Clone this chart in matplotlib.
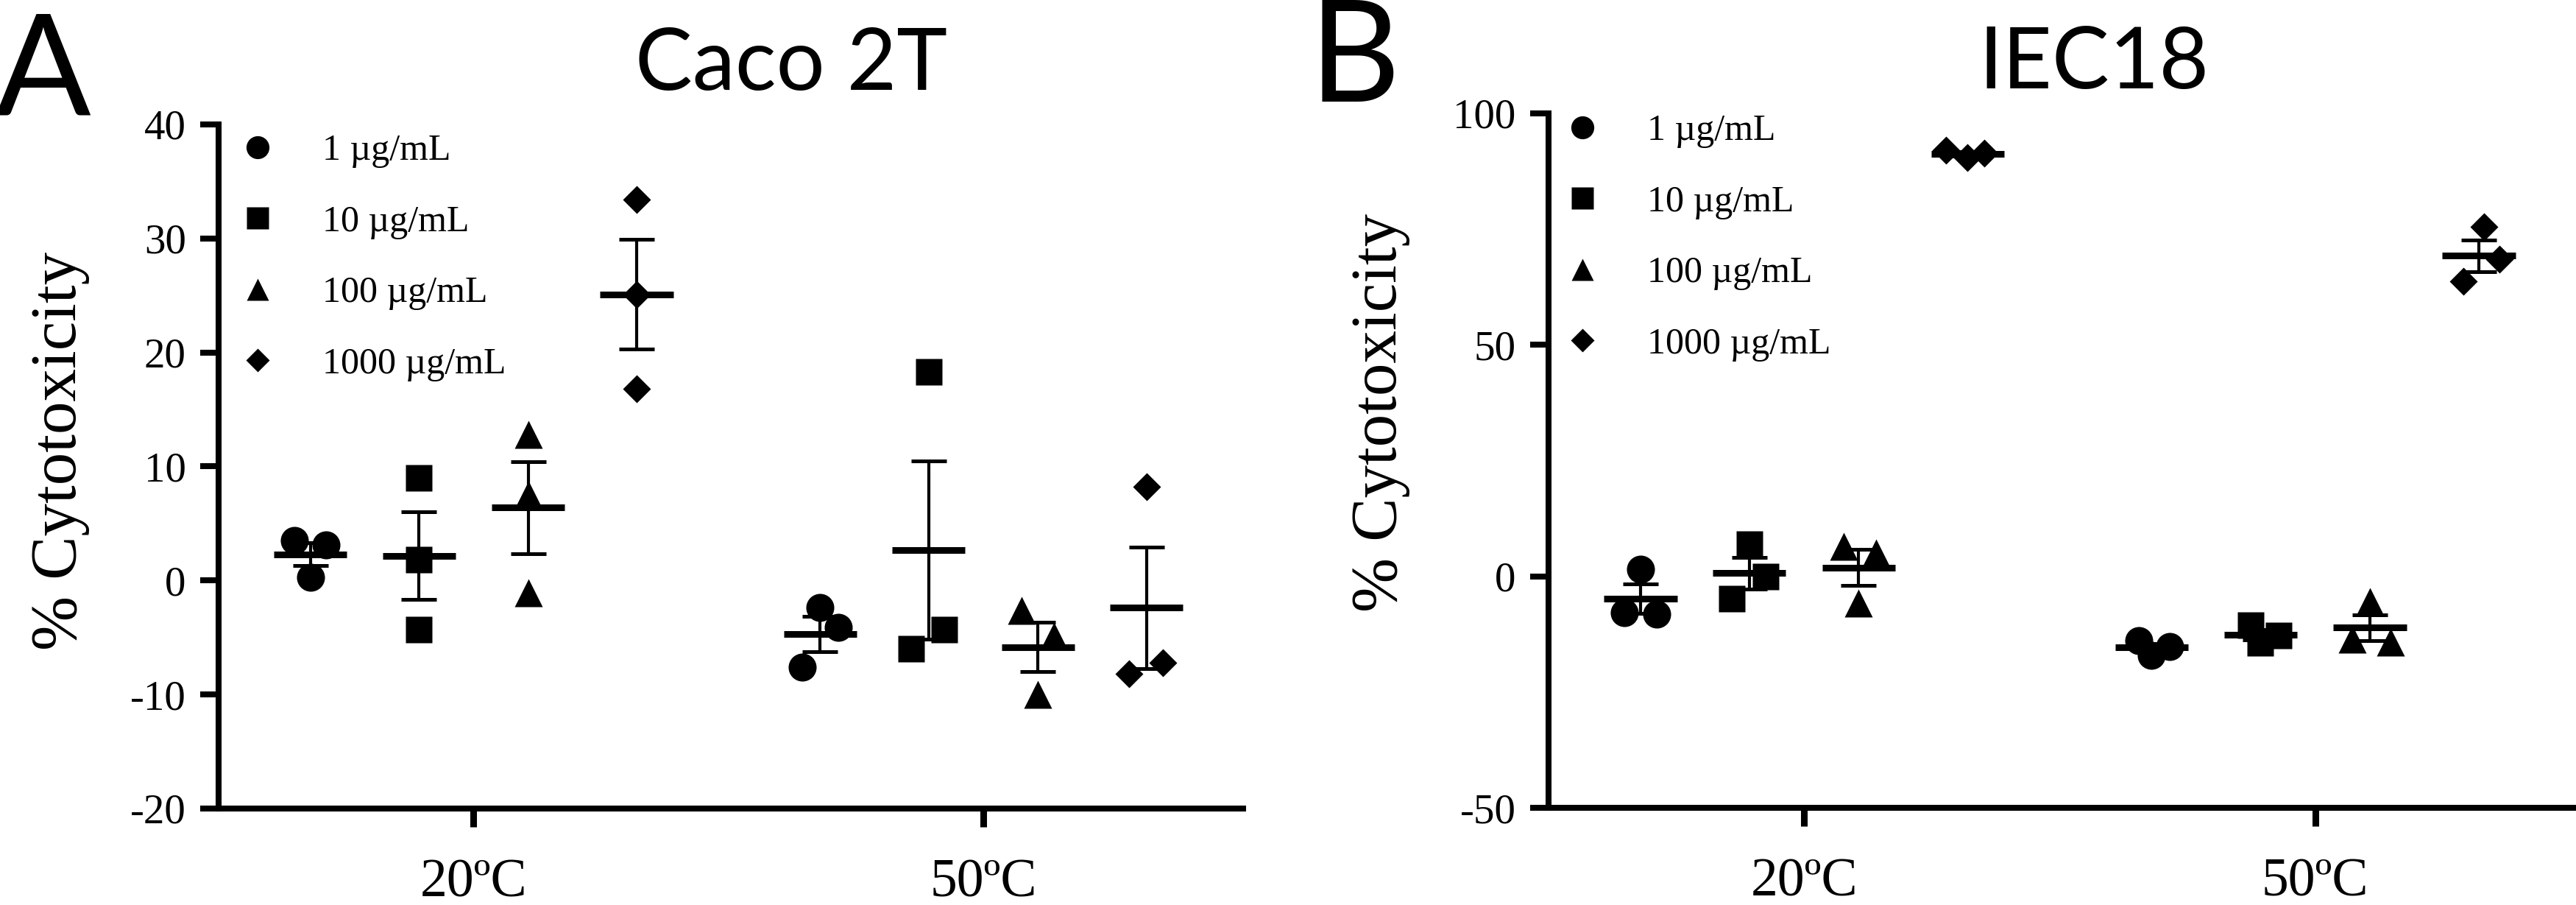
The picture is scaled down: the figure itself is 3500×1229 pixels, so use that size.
import matplotlib
matplotlib.use("Agg")
import matplotlib.pyplot as plt
import numpy as np

plt.rcParams['axes.unicode_minus'] = False

# Categories
conditions = ["20ºC", "50ºC"]
doses = ["1 \u00b5g/mL", "10 \u00b5g/mL", "100 \u00b5g/mL", "1000 \u00b5g/mL"]

# % cytotoxicity, three replicates per dose (order: 1, 10, 100, 1000 ug/mL)
caco_20 = [[3.5, 3.1, 0.3], [9.0, 1.8, -4.3], [12.8, 7.5, -1.1], [33.4, 25.1, 16.8]]
caco_50 = [[-2.4, -4.1, -7.6], [18.3, -4.3, -6.0], [-2.6, -4.9, -10.0], [8.2, -8.2, -7.2]]
iec_20 = [[1.5, -7.9, -8.1], [7.0, 0.0, -4.8], [6.4, 5.1, -5.8], [92.0, 90.4, 91.4]]
iec_50 = [[-13.9, -15.2, -17.0], [-10.5, -12.8, -14.4], [-5.5, -13.6, -14.2], [75.5, 68.5, 63.8]]

# horizontal scatter of the replicates (layout only)
jit_caco_20 = [[-0.031, 0.031, 0.0], [0, 0, 0], [0, 0, 0], [0, 0, 0]]
jit_caco_50 = [[0.0, 0.035, -0.035], [0.0, 0.03, -0.035], [-0.032, 0.032, 0.0], [0.0, -0.034, 0.032]]
jit_iec_20 = [[0.0, -0.032, 0.032], [0.0, 0.032, -0.035], [-0.03, 0.034, 0.0], [-0.043, 0.0, 0.033]]
jit_iec_50 = [[-0.025, 0.035, 0.0], [-0.02, 0.035, 0.0], [0.0, -0.035, 0.04], [0.01, 0.04, -0.03]]

markers = ["o", "s", "^", "D"]
msizes = {"o": 27.4, "s": 26.6, "^": 27.0, "D": 19.3}
offsets = [-0.32, -0.107, 0.107, 0.32]
SERIF = "Liberation Serif"
SANS = "Lato"


def draw_panel(ax, data, jitter, ylim, yticks):
    for ci, (vals, jit) in enumerate(zip(data, jitter)):
        for di in range(len(doses)):
            y = np.array(vals[di])
            xc = ci + offsets[di]
            x = xc + np.array(jit[di])
            ax.plot(x, y, ls="none", marker=markers[di], ms=msizes[markers[di]],
                    color="black", mec="none", clip_on=False,
                    label=doses[di] if ci == 0 else None, zorder=3)
            m = y.mean()
            sem = y.std(ddof=1) / np.sqrt(len(y))
            ax.errorbar(xc, m, yerr=sem, fmt="none", ecolor="black",
                        elinewidth=3.0, capsize=17.5, capthick=3.6, zorder=4)
            ax.hlines(m, xc - 0.0715, xc + 0.0715, color="black", lw=6.5, zorder=5)

    ax.set_xlim(-0.5, 1.51)
    ax.set_ylim(*ylim)
    ax.set_yticks(yticks)
    ax.set_yticklabels([str(t) for t in yticks], family=SERIF, fontsize=41)
    ax.set_xticks(range(len(conditions)))
    ax.set_xticklabels(conditions, family=SERIF, fontsize=53)
    for s in ["top", "right"]:
        ax.spines[s].set_visible(False)
    for s in ["left", "bottom"]:
        ax.spines[s].set_linewidth(5.8)
    ax.tick_params(axis="y", direction="out", length=18, width=5.8, pad=14)
    ax.tick_params(axis="x", direction="out", length=18, width=6.5, pad=31)


fig = plt.figure(figsize=(35, 12.29), dpi=100)
axA = fig.add_axes([0.0849, 0.1066, 0.3977, 0.7559])
axB = fig.add_axes([0.6011, 0.1074, 0.3989, 0.7673])

draw_panel(axA, [caco_20, caco_50], [jit_caco_20, jit_caco_50], (-20, 40), [-20, -10, 0, 10, 20, 30, 40])
draw_panel(axB, [iec_20, iec_50], [jit_iec_20, jit_iec_50], (-50, 100), [-50, 0, 50, 100])

leg_kw = dict(loc="upper left", frameon=False, borderpad=0, borderaxespad=0,
              handlelength=1.0, handletextpad=1.26, labelspacing=1.0,
              markerscale=0.82, prop={"family": SERIF, "size": 36})
axA.legend(bbox_to_anchor=(0.020, 0.986), **leg_kw)
axB.legend(bbox_to_anchor=(0.015, 0.999), **leg_kw)

# panel letters and titles
fig.text(-0.002, 1 - 156 / 1229, "A", family=SANS, fontsize=138, va="baseline", ha="left")
fig.text(0.508, 1 - 138 / 1229, "B", family=SANS, fontsize=138, va="baseline", ha="left")
fig.text(1075 / 3500, 1 - 122 / 1229, "Caco 2T", family=SANS, fontsize=84, va="baseline", ha="center")
fig.text(2845 / 3500, 1 - 120 / 1229, "IEC18", family=SANS, fontsize=84, va="baseline", ha="center")

fig.text(82 / 3500, 1 - 612 / 1229, "% Cytotoxicity", family=SERIF, fontsize=64,
         rotation=90, va="center", ha="center")
fig.text(1875 / 3500, 1 - 560 / 1229, "% Cytotoxicity", family=SERIF, fontsize=64,
         rotation=90, va="center", ha="center")

fig.savefig("out.png", dpi=100)
